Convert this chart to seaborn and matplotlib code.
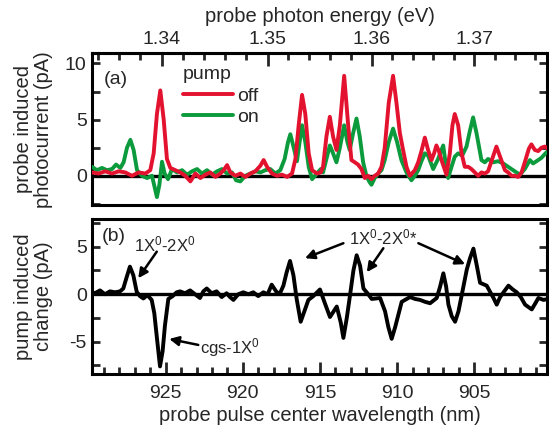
import numpy as np
import pandas as pd
import matplotlib
matplotlib.use("Agg")
import matplotlib.pyplot as plt
import seaborn as sns
from matplotlib.ticker import MultipleLocator, FormatStrFormatter

# ---------------- data ----------------
off_nm = [929.78, 929.35, 928.92, 928.48, 928.05, 927.62, 927.19, 926.75, 926.32, 926.00,
          925.78, 925.57, 925.35, 925.13, 924.92, 924.70, 924.38, 924.05, 923.73, 923.40,
          923.08, 922.75, 922.43, 922.11, 921.78, 921.46, 921.24, 921.02, 920.81, 920.48,
          920.16, 919.84, 919.51, 919.19, 918.86, 918.65, 918.43, 918.11, 917.78, 917.46,
          917.13, 916.81, 916.59, 916.38, 916.16, 915.95, 915.73, 915.51, 915.19, 914.95,
          914.80, 914.58, 914.36, 914.15, 913.93, 913.71, 913.43, 913.17, 912.96, 912.74,
          912.53, 912.31, 912.09, 911.88, 911.66, 911.45, 911.23, 911.01, 910.80, 910.54,
          910.26, 910.04, 909.82, 909.61, 909.39, 909.17, 908.85, 908.63, 908.42, 908.20,
          907.99, 907.77, 907.60, 907.45, 907.29, 907.12, 906.80, 906.58, 906.41, 906.26,
          906.04, 905.82, 905.61, 905.39, 905.18, 904.96, 904.74, 904.53, 904.31, 904.10,
          903.88, 903.56, 903.27, 903.01, 902.80, 902.58, 902.37, 902.15, 901.93, 901.72,
          901.46, 901.29, 901.07, 900.85, 900.64, 900.42, 900.20]
off_pA = [0.3, 0.2, 0.4, 0.2, 0.4, 0.3, 0.0, 0.3, 0.2, 0.5,
          2.0, 5.5, 7.6, 5.0, 1.5, 0.7, 0.5, 0.3, 0.0, -0.5,
          0.2, -0.2, 0.1, 0.3, -0.1, 0.2, 0.5, 0.95, 0.3, 0.0,
          0.2, -0.1, 0.2, 0.4, 0.9, 1.4, 0.8, 0.2, 0.0, 0.1,
          -0.1, 0.2, 1.5, 4.5, 7.2, 5.5, 2.0, 0.5, 0.2, 0.3,
          0.8, 3.5, 5.25, 3.5, 2.3, 4.5, 8.9, 4.5, 1.4, 1.2,
          1.0, 0.6, -0.2, 0.0, -0.3, 0.0, 0.2, 0.8, 2.5, 6.5,
          8.9, 6.5, 3.8, 2.3, 0.8, 0.0, 0.5, 1.2, 2.2, 3.4,
          2.3, 1.4, 2.0, 2.7, 2.2, 1.4, 0.1, 2.0, 4.5, 5.5,
          4.5, 2.0, 0.8, 0.8, 0.6, 0.3, 0.0, 0.3, 0.2, 0.4,
          1.3, 2.6, 1.5, 0.5, 0.3, 0.0, 0.0, -0.1, 0.3, 1.2,
          2.4, 2.8, 2.3, 2.2, 2.5, 2.6, 2.4]

on_nm = [929.78, 929.46, 929.13, 928.81, 928.48, 928.22, 927.94, 927.73, 927.51, 927.29,
         927.08, 926.86, 926.54, 926.21, 925.89, 925.72, 925.57, 925.41, 925.24, 925.07,
         924.85, 924.59, 924.27, 923.94, 923.62, 923.29, 922.97, 922.65, 922.32, 922.00,
         921.67, 921.35, 921.02, 920.70, 920.44, 920.16, 919.84, 919.51, 919.19, 918.86,
         918.54, 918.22, 917.89, 917.57, 917.29, 917.07, 916.92, 916.70, 916.49, 916.34,
         916.16, 915.95, 915.73, 915.51, 915.19, 914.95, 914.80, 914.58, 914.36, 914.15,
         913.93, 913.71, 913.43, 913.22, 913.07, 912.85, 912.63, 912.42, 912.20, 911.99,
         911.81, 911.66, 911.45, 911.23, 911.01, 910.80, 910.54, 910.26, 910.00, 909.72,
         909.39, 909.07, 908.85, 908.63, 908.42, 908.20, 907.99, 907.66, 907.34, 907.01,
         906.84, 906.69, 906.47, 906.26, 906.04, 905.78, 905.50, 905.28, 905.07, 904.85,
         904.53, 904.31, 904.10, 903.77, 903.45, 903.12, 902.80, 902.37, 902.04, 901.72,
         901.39, 901.18, 900.96, 900.64, 900.31, 900.16]
on_pA = [0.8, 0.5, 0.7, 0.5, 0.6, 1.0, 0.7, 1.2, 2.5, 3.2,
         2.3, 0.5, 0.0, -0.2, 0.0, -1.0, -1.9, -0.8, 1.25, 0.2,
         -0.3, 0.6, 0.3, 0.5, 0.1, 0.4, 0.6, 0.2, 0.5, 0.1,
         0.4, 0.6, 0.2, 0.3, -0.4, -0.5, 0.0, 0.2, 0.4, 0.3,
         0.5, 0.6, 0.2, 0.5, 1.5, 3.0, 3.7, 2.5, 1.3, 2.8,
         4.5, 3.0, 0.8, -0.3, 0.2, 0.6, 0.3, 1.5, 2.7, 2.0,
         1.2, 2.5, 4.5, 3.0, 2.3, 3.8, 5.1, 3.5, 1.2, 0.0,
         -0.5, -0.8, -0.2, 0.2, 0.5, 1.4, 3.0, 4.2, 3.0, 1.4,
         0.3, -0.4, 0.0, 0.5, 1.3, 2.0, 1.8, 0.6, 1.5, 2.7,
         1.0, -0.2, 0.8, 1.7, 2.0, 1.8, 2.6, 4.0, 5.2, 3.8,
         1.4, 1.2, 1.5, 1.2, 1.3, 1.1, 0.8, 0.4, 0.1, 0.6,
         1.4, 1.1, 1.3, 1.6, 2.1, 2.0]

diff_nm = [929.91, 929.59, 929.26, 928.94, 928.61, 928.29, 927.96, 927.75, 927.53, 927.32,
           927.10, 926.88, 926.67, 926.45, 926.19, 925.91, 925.74, 925.59, 925.37, 925.20,
           925.05, 924.83, 924.55, 924.29, 924.07, 923.75, 923.42, 923.10, 922.78, 922.56,
           922.34, 922.02, 921.70, 921.37, 921.05, 920.83, 920.61, 920.29, 919.97, 919.64,
           919.32, 919.00, 918.67, 918.39, 918.13, 917.80, 917.59, 917.37, 917.16, 916.94,
           916.72, 916.51, 916.25, 916.01, 915.75, 915.43, 915.00, 914.67, 914.35, 913.91,
           913.65, 913.48, 913.26, 913.05, 912.83, 912.62, 912.40, 912.18, 911.92, 911.64,
           911.10, 910.78, 910.56, 910.35, 910.13, 909.70, 909.16, 908.83, 908.51, 908.19,
           907.86, 907.43, 907.21, 907.00, 906.82, 906.67, 906.46, 906.24, 906.02, 905.81,
           905.48, 905.27, 905.05, 904.83, 904.62, 904.19, 903.75, 903.54, 903.32, 903.10,
           902.78, 902.50, 902.24, 901.98, 901.70, 901.27, 901.05, 900.84, 900.51, 900.19]
diff_pA = [0.3, 0.1, 0.4, 0.0, 0.3, 0.2, 0.3, 0.6, 1.8, 2.9,
           2.0, 0.25, -0.2, -0.45, -0.1, -0.6, -2.0, -4.3, -7.6, -6.0,
           -3.3, -0.5, -0.2, 0.2, 0.3, 0.1, 0.4, 0.0, -0.4, 0.3,
           0.6, 0.1, 0.3, -0.3, 0.1, -0.3, -0.6, 0.0, 0.2, 0.0,
           0.2, -0.2, 0.2, 0.0, 1.0, 0.2, 0.1, 0.9, 2.3, 3.5,
           2.0, -0.5, -2.9, -1.8, -0.6, -0.2, 0.5, -1.0, -2.4, -1.3,
           -3.0, -4.6, -2.5, -0.1, 2.5, 4.1, 3.0, 0.6, 0.1, -0.5,
           -0.4, -1.8, -3.5, -4.7, -3.5, -0.8, -0.3, -0.5, -0.6, -0.8,
           -0.95, -0.4, 0.8, 2.2, 0.8, -1.1, -2.3, -2.9, -1.8, -0.1,
           2.6, 3.8, 4.8, 3.0, 1.2, 0.9, -0.4, -1.1, -0.3, 0.2,
           0.9, 0.5, 0.2, -0.3, -1.1, -1.6, -1.0, -0.4, -0.6, -0.5]

series_names = ["off", "on"]
top_ticks_ev = [1.34, 1.35, 1.36, 1.37]

RED = "#E3122F"
GREEN = "#0B9A3C"

# ---------------- style ----------------
sns.set_theme(style="ticks")
plt.rcParams["font.family"] = ["Liberation Sans", "DejaVu Sans"]
plt.rcParams["mathtext.fontset"] = "custom"
plt.rcParams["mathtext.rm"] = "Liberation Sans"
plt.rcParams["mathtext.it"] = "Liberation Sans:italic"
plt.rcParams["axes.unicode_minus"] = False
plt.rcParams["lines.solid_joinstyle"] = "round"
plt.rcParams["lines.solid_capstyle"] = "round"

fig = plt.figure(figsize=(5.49, 4.37), dpi=100)
ax1 = fig.add_axes([0.1681, 0.5309, 0.8277, 0.3470])
ax2 = fig.add_axes([0.1681, 0.1442, 0.8277, 0.3547])

LW = 2.8
SPW = 2.2
XMIN, XMAX = 929.76, 900.3

top_df = pd.concat([
    pd.DataFrame({"nm": off_nm, "pA": off_pA, "pump": series_names[0]}),
    pd.DataFrame({"nm": on_nm, "pA": on_pA, "pump": series_names[1]}),
])
diff_df = pd.DataFrame({"nm": diff_nm, "pA": diff_pA})

# ---------------- panel (a) ----------------
ax1.axhline(0, color="black", lw=2.4, zorder=1)
sns.lineplot(data=top_df[top_df.pump == "on"], x="nm", y="pA", color=GREEN, lw=LW,
             estimator=None, ax=ax1, label="on", zorder=3)
sns.lineplot(data=top_df[top_df.pump == "off"], x="nm", y="pA", color=RED, lw=LW,
             estimator=None, ax=ax1, label="off", zorder=4)
ax1.set_xlim(XMIN, XMAX)
ax1.set_ylim(-2.6, 10.9)
h, l = ax1.get_legend_handles_labels()
hd = dict(zip(l, h))
ax1.legend([hd["off"], hd["on"]], ["off", "on"], title="pump", loc="upper left",
           bbox_to_anchor=(0.2, 0.915), frameon=False, handlelength=2.55,
           handletextpad=0.2, labelspacing=0.2, borderpad=0, borderaxespad=0,
           fontsize=14, title_fontsize=14, alignment="left")
ax1.text(0.052, 0.825, "(a)", transform=ax1.transAxes, fontsize=14, ha="center", va="center")

ax1.set_xlabel("")
ax1.set_ylabel("probe induced\nphotocurrent (pA)", fontsize=14.5, linespacing=1.1)
ax1.yaxis.set_label_coords(-0.086, 0.5)
ax1.yaxis.set_major_locator(MultipleLocator(5))
ax1.yaxis.set_minor_locator(MultipleLocator(2.5))
ax1.tick_params(axis="y", which="both", direction="in", left=True, right=True,
                length=6, width=2, labelsize=14, pad=4)
ax1.tick_params(axis="x", which="both", bottom=False, top=False, labelbottom=False)

nm2ev = lambda x: 1239.84 / np.asarray(x, dtype=float)
sec = ax1.secondary_xaxis("top", functions=(nm2ev, nm2ev))
sec.xaxis.set_major_locator(matplotlib.ticker.FixedLocator(top_ticks_ev))
sec.xaxis.set_minor_locator(MultipleLocator(0.002))
sec.xaxis.set_major_formatter(FormatStrFormatter("%.2f"))
sec.tick_params(which="major", direction="in", length=9, width=2, labelsize=14, pad=4)
sec.tick_params(which="minor", direction="in", length=5, width=2)
sec.set_xlabel("probe photon energy (eV)", fontsize=14.5, labelpad=6)
for s in sec.spines.values():
    s.set_linewidth(SPW)

# ---------------- panel (b) ----------------
ax2.axhline(0, color="black", lw=2.4, zorder=1)
sns.lineplot(data=diff_df, x="nm", y="pA", color="black", lw=LW, estimator=None, ax=ax2, zorder=3)
ax2.set_xlim(XMIN, XMAX)
ax2.set_ylim(-8.4, 7.92)
ax2.text(0.048, 0.89, "(b)", transform=ax2.transAxes, fontsize=14, ha="center", va="center")
ax2.set_ylabel("pump induced\nchange (pA)", fontsize=14.5, linespacing=1.1)
ax2.yaxis.set_label_coords(-0.086, 0.5)
ax2.set_xlabel("probe pulse center wavelength (nm)", fontsize=14.5, labelpad=3)
ax2.yaxis.set_major_locator(MultipleLocator(5))
ax2.yaxis.set_minor_locator(MultipleLocator(2.5))
ax2.xaxis.set_major_locator(MultipleLocator(5))
ax2.xaxis.set_minor_locator(MultipleLocator(1))
ax2.tick_params(axis="y", which="both", direction="in", left=True, right=True,
                length=6, width=2, labelsize=14, pad=4)
ax2.tick_params(axis="x", which="major", direction="in", bottom=True, top=False,
                length=9, width=2, labelsize=14, pad=8)
ax2.tick_params(axis="x", which="minor", direction="in", bottom=True, top=False,
                length=5, width=2)

for ax in (ax1, ax2):
    for s in ax.spines.values():
        s.set_visible(True)
        s.set_linewidth(SPW)
        s.set_color("black")

arrow = dict(arrowstyle="-|>", color="black", lw=1.8, mutation_scale=14, shrinkA=0, shrinkB=0)
ax2.text(925.05, 5.2, r"1X$^{0}$-2X$^{0}$", fontsize=12, ha="center", va="center")
ax2.annotate("", xy=(926.78, 1.68), xytext=(925.58, 4.48), arrowprops=arrow)
ax2.text(922.8, -5.65, r"cgs-1X$^{0}$", fontsize=12, ha="left", va="center")
ax2.annotate("", xy=(924.77, -4.71), xytext=(922.89, -5.34), arrowprops=arrow)
ax2.text(910.91, 5.95, r"1X$^{0}$-2X$^{0}$*", fontsize=12, ha="center", va="center")
ax2.annotate("", xy=(915.97, 3.79), xytext=(913.48, 5.37), arrowprops=arrow)
ax2.annotate("", xy=(911.96, 2.32), xytext=(910.89, 4.84), arrowprops=arrow)
ax2.annotate("", xy=(905.59, 3.16), xytext=(908.62, 5.37), arrowprops=arrow)

fig.savefig("out.png", dpi=100)
